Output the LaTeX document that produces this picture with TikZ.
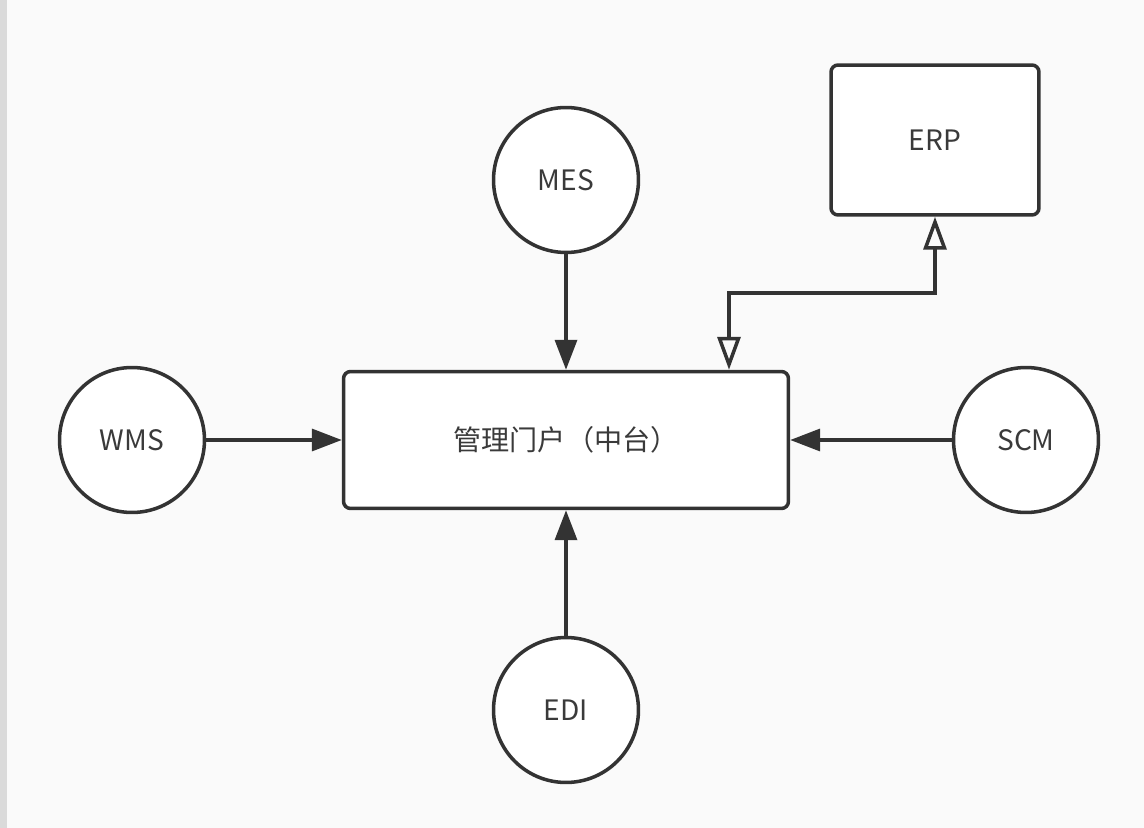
\documentclass[tikz,border=0pt]{standalone}
\usepackage{fontspec}
\setmainfont{Noto Sans CJK SC}
\usetikzlibrary{arrows.meta}
\definecolor{linegray}{HTML}{333333}
\definecolor{textgray}{HTML}{3A3A3A}
\definecolor{paper}{HTML}{FAFAFA}
\definecolor{edgegray}{HTML}{DADADA}
\tikzset{
  sys/.style={circle, draw=linegray, line width=2pt, fill=white, minimum size=2.9cm,
    text=textgray, font=\fontsize{16}{19}\selectfont},
  box/.style={rectangle, rounded corners=4pt, draw=linegray, line width=2pt, fill=white,
    text=textgray, font=\fontsize{16}{19}\selectfont},
  feed/.style={draw=linegray, line width=2pt, -{Triangle[length=0.6cm,width=0.44cm]}},
  sync/.style={draw=linegray, line width=2pt,
    {Triangle[open,length=0.66cm,width=0.46cm]}-{Triangle[open,length=0.66cm,width=0.46cm]}}
}
\begin{document}
\begin{tikzpicture}[x=0.02cm,y=-0.02cm]
    % page
    \fill[paper] (0,0) rectangle (1144,828);
    \fill[edgegray] (0,0) rectangle (7,828);
    \useasboundingbox (0,0) rectangle (1144,828);

    % systems
    \node[box, minimum width=8.9cm, minimum height=2.74cm] (portal) at (566,440) {管理门户（中台）};
    \node[box, minimum width=4.16cm, minimum height=3cm] (erp) at (935,140) {ERP};
    \node[sys] (mes) at (566,180) {MES};
    \node[sys] (wms) at (132,440) {WMS};
    \node[sys] (scm) at (1026,440) {SCM};
    \node[sys] (edi) at (566,710) {EDI};

    % links
    \draw[feed] (mes) -- (portal);
    \draw[feed] (wms) -- (portal);
    \draw[feed] (scm) -- (portal);
    \draw[feed] (edi) -- (portal);
    \coordinate (bend) at (729,293);
    \draw[sync] (bend |- portal.north) -- (bend) -| (erp.south);
\end{tikzpicture}
\end{document}
